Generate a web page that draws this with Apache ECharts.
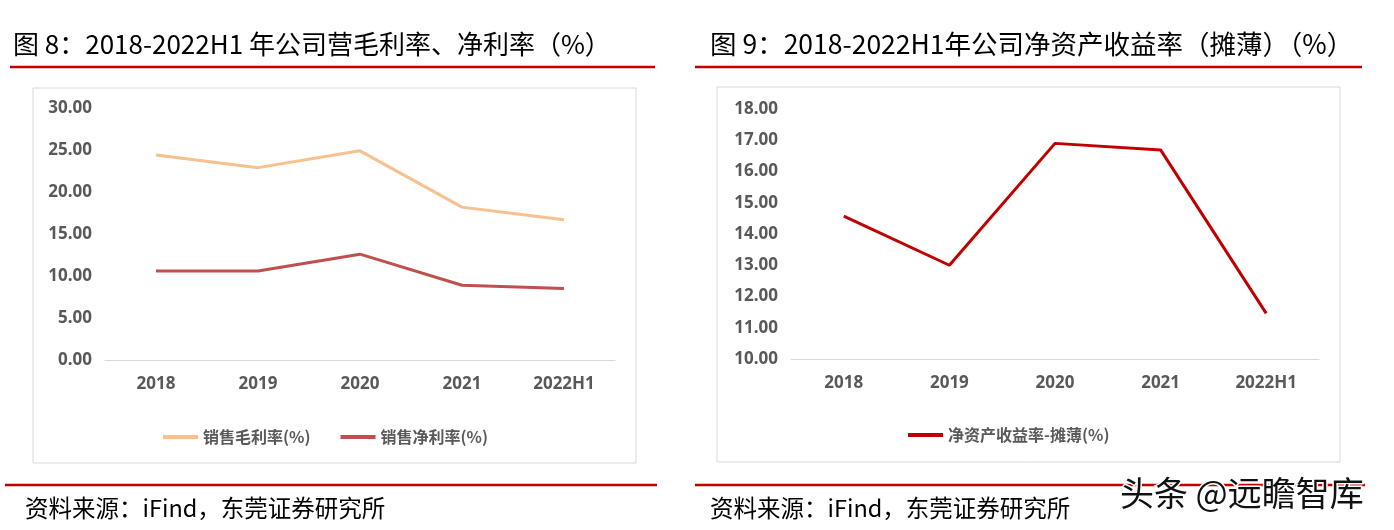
<!DOCTYPE html>
<html>
<head>
<meta charset="utf-8">
<script src="https://cdn.jsdelivr.net/npm/echarts@6/dist/echarts.min.js"></script>
<style>
  html, body { margin: 0; padding: 0; background: #fff; }
  #main { width: 1394px; height: 530px; }
</style>
</head>
<body>
<div id="main"></div>
<script>
// 数据
var years = ['2018', '2019', '2020', '2021', '2022H1'];
var grossMargin = [24.4, 22.9, 24.9, 18.2, 16.7];   // 销售毛利率(%)
var netMargin = [10.6, 10.6, 12.6, 8.9, 8.5];       // 销售净利率(%)
var roe = [14.57, 13.0, 16.9, 16.69, 11.46];        // 净资产收益率-摊薄(%)

var titleLeft = '图 8：2018-2022H1 年公司营毛利率、净利率（%）';
var titleRight = '图 9：2018-2022H1年公司净资产收益率（摊薄）（%）';
var sourceText = '资料来源：iFind，东莞证券研究所';

var cjk = '"Noto Sans CJK SC", sans-serif';
var axisFont = { color: '#595959', fontSize: 17, fontWeight: 'bold', fontFamily: '"Noto Sans", sans-serif' };

function yAxisOf(min, max, interval, gridIndex) {
    return {
        type: 'value', gridIndex: gridIndex, min: min, max: max, interval: interval,
        axisLine: { show: false }, axisTick: { show: false }, splitLine: { show: false },
        axisLabel: Object.assign({ margin: 13, formatter: function (v) { return v.toFixed(2); } }, axisFont)
    };
}
function xAxisOf(gridIndex) {
    return {
        type: 'category', gridIndex: gridIndex, data: years,
        axisLine: { lineStyle: { color: '#d9d9d9', width: 1 } },
        axisTick: { show: false },
        axisLabel: Object.assign({ margin: 16 }, axisFont)
    };
}
function hline(x1, x2, y) {
    return { type: 'line', shape: { x1: x1, y1: y, x2: x2, y2: y }, style: { stroke: '#c00000', lineWidth: 2.5 } };
}
function box(x, y, w, h) {
    return { type: 'rect', shape: { x: x, y: y, width: w, height: h }, style: { fill: 'none', stroke: '#d9d9d9', lineWidth: 1 } };
}
function txt(x, y, s, size) {
    return { type: 'text', x: x, y: y, style: { text: s, fill: '#000', fontSize: size, fontFamily: cjk, textVerticalAlign: 'middle' } };
}

var myChart = echarts.init(document.getElementById('main'));
var option = {
    animation: false,
    backgroundColor: '#fff',
    grid: [
        { left: 105, right: 779, top: 108, bottom: 170 },
        { left: 791, right: 75, top: 109, bottom: 171 }
    ],
    xAxis: [xAxisOf(0), xAxisOf(1)],
    yAxis: [yAxisOf(0, 30, 5, 0), yAxisOf(10, 18, 1, 1)],
    legend: [
        {
            data: ['销售毛利率(%)', '销售净利率(%)'],
            left: 158, top: 424, icon: 'rect', itemWidth: 35, itemHeight: 4, itemGap: 30,
            textStyle: { color: '#595959', fontSize: 16, fontWeight: 'bold', fontFamily: cjk }
        },
        {
            data: ['净资产收益率-摊薄(%)'],
            left: 903, top: 422, icon: 'rect', itemWidth: 35, itemHeight: 4,
            textStyle: { color: '#595959', fontSize: 16, fontWeight: 'bold', fontFamily: cjk }
        }
    ],
    series: [
        { name: '销售毛利率(%)', type: 'line', xAxisIndex: 0, yAxisIndex: 0, data: grossMargin,
          showSymbol: false, lineStyle: { color: '#f8c08f', width: 3 }, itemStyle: { color: '#f8c08f' } },
        { name: '销售净利率(%)', type: 'line', xAxisIndex: 0, yAxisIndex: 0, data: netMargin,
          showSymbol: false, lineStyle: { color: '#c0504d', width: 3 }, itemStyle: { color: '#c0504d' } },
        { name: '净资产收益率-摊薄(%)', type: 'line', xAxisIndex: 1, yAxisIndex: 1, data: roe,
          showSymbol: false, lineStyle: { color: '#c00000', width: 3 }, itemStyle: { color: '#c00000' } }
    ],
    graphic: [
        box(33, 88, 603, 375),
        box(717, 87, 623, 375),
        hline(10, 655, 67),
        hline(695, 1362, 67),
        hline(5, 657, 485),
        hline(695, 1365, 485),
        txt(13, 44, titleLeft, 26),
        txt(710, 44, titleRight, 26.5),
        txt(25, 508, sourceText, 23.5),
        txt(710, 508, sourceText, 23.5),
        { type: 'text', x: 1120, y: 493, z: 100,
          style: { text: '头条 @远瞻智库', fill: '#111', stroke: '#fff', lineWidth: 3, fontSize: 34,
                   fontFamily: cjk, textVerticalAlign: 'middle' } }
    ]
};
myChart.setOption(option);
</script>
</body>
</html>
